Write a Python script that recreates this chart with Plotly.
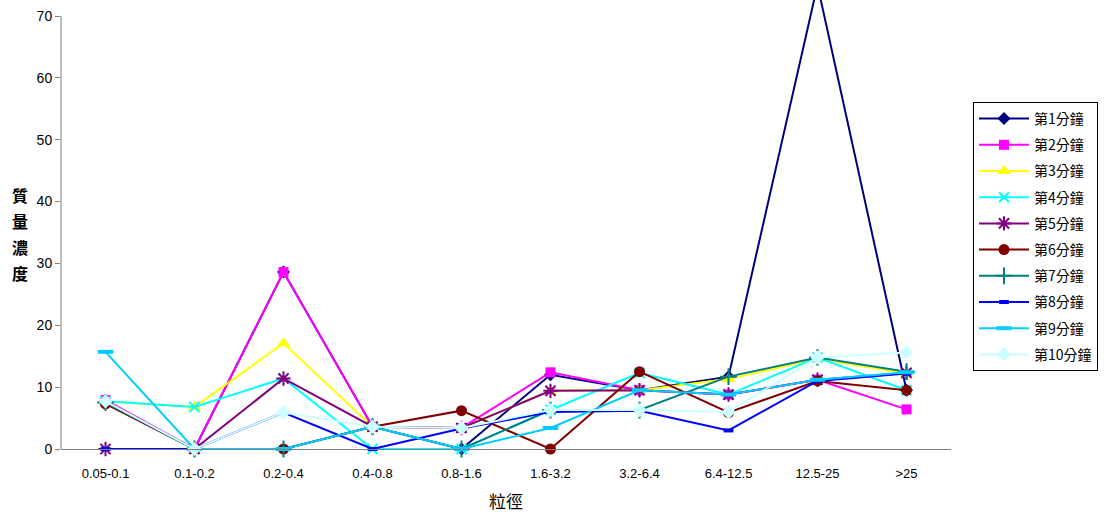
import plotly.graph_objects as go

# Particle-size bins
categories = ["0.05-0.1", "0.1-0.2", "0.2-0.4", "0.4-0.8", "0.8-1.6",
              "1.6-3.2", "3.2-6.4", "6.4-12.5", "12.5-25", ">25"]

# Mass concentration per minute of sampling
min1 = [7.7, 0.0, 28.6, 3.6, 0.0, 12.0, 9.5, 11.7, 75.0, 9.5]
min2 = [7.9, 0.0, 28.6, 3.6, 3.4, 12.4, 9.5, 8.8, 11.2, 6.4]
min3 = [7.7, 6.8, 17.1, 3.6, 3.4, 9.4, 9.5, 11.3, 14.6, 12.2]
min4 = [7.7, 6.8, 11.4, 0.0, 0.0, 6.3, 12.3, 8.8, 14.8, 9.5]
min5 = [0.0, 0.0, 11.4, 3.6, 3.4, 9.4, 9.5, 8.8, 11.2, 12.3]
min6 = [7.3, 0.0, 0.0, 3.6, 6.2, 0.0, 12.5, 5.9, 11.0, 9.5]
min7 = [7.5, 0.0, 0.0, 3.6, 0.0, 6.3, 6.3, 11.7, 14.8, 12.5]
min8 = [0.0, 0.0, 5.9, 0.0, 3.3, 6.0, 6.2, 3.0, 11.0, 12.2]
min9 = [15.7, 0.0, 0.0, 3.6, 0.0, 3.4, 9.5, 8.8, 11.2, 12.4]
min10 = [7.7, 0.0, 5.9, 3.6, 3.4, 6.3, 6.3, 6.0, 14.8, 15.6]

series_names = ["第1分鐘", "第2分鐘", "第3分鐘", "第4分鐘", "第5分鐘",
                "第6分鐘", "第7分鐘", "第8分鐘", "第9分鐘", "第10分鐘"]
series_values = [min1, min2, min3, min4, min5, min6, min7, min8, min9, min10]

y_ticks = [0, 10, 20, 30, 40, 50, 60, 70]

# Line colour, marker symbol, marker size, marker outline width
styles = [
    ("#000080", "diamond", 10, 0),
    ("#FF00FF", "square", 10, 0),
    ("#FFFF00", "triangle-up", 12, 0),
    ("#00FFFF", "x-thin-open", 10, 2),
    ("#800080", "asterisk-open", 12, 2),
    ("#800000", "circle", 11, 0),
    ("#008080", "cross-thin-open", 12, 2),
    ("#0000FF", "line-ew-open", 7, 4),
    ("#00CCFF", "line-ew-open", 11, 4),
    ("#CCFFFF", "diamond", 11, 0),
]

fig = go.Figure()
for i, (name, vals, (color, sym, size, lw)) in enumerate(zip(series_names, series_values, styles)):
    fig.add_trace(go.Scatter(
        x=categories, y=vals, name=name, mode="lines+markers",
        legendgroup=f"g{i}",
        line=dict(color=color, width=2),
        marker=dict(symbol=sym, size=size, color=color,
                    line=dict(color=color, width=lw)),
        cliponaxis=False,
    ))

W, H = 1109, 517
ml, mr, mt, mb = 61, 158, 0, 68
plot_h = H - mt - mb
px_per_unit = (449 - 16) / 70.0
y_top = plot_h / px_per_unit

fig.update_layout(
    width=W, height=H,
    margin=dict(l=ml, r=mr, t=mt, b=mb),
    paper_bgcolor="white", plot_bgcolor="white",
    font=dict(family="Liberation Sans, Arial, sans-serif", size=13, color="black"),
    showlegend=True,
    legend=dict(
        x=(973 - ml) / (W - ml - mr), y=(449 - 102) / plot_h,
        xanchor="left", yanchor="top",
        bordercolor="black", borderwidth=1,
        font=dict(family="Noto Sans CJK TC, Liberation Sans, sans-serif", size=14),
        tracegroupgap=5, itemwidth=50,
    ),
    xaxis=dict(
        type="category", range=[-0.5, len(categories) - 0.5],
        showline=True, linecolor="#808080", linewidth=1,
        showgrid=False, zeroline=False, ticks="",
        tickfont=dict(size=13), ticklabelstandoff=12,
        title=dict(text="粒徑", font=dict(family="Noto Sans CJK TC, sans-serif", size=17), standoff=16),
    ),
    yaxis=dict(
        range=[0, y_top], tickvals=y_ticks,
        showline=False, showgrid=False, zeroline=False,
        ticks="outside", ticklen=5, tickcolor="#808080",
        tickfont=dict(size=14),
    ),
)

# Vertical axis line from 0 up to 70
fig.add_shape(type="line", xref="paper", yref="y", x0=0, x1=0, y0=0, y1=70,
              line=dict(color="#808080", width=1))

# Stacked vertical y-axis title
for k, ch in enumerate("質量濃度"):
    fig.add_annotation(text=f"<b>{ch}</b>", xref="paper", yref="paper",
                       x=-(ml - 20) / (W - ml - mr), y=(449 - (195 + 26 * k)) / plot_h,
                       showarrow=False, xanchor="center", yanchor="middle",
                       font=dict(family="Noto Sans CJK TC, sans-serif", size=16))

fig.write_html("out.html")
